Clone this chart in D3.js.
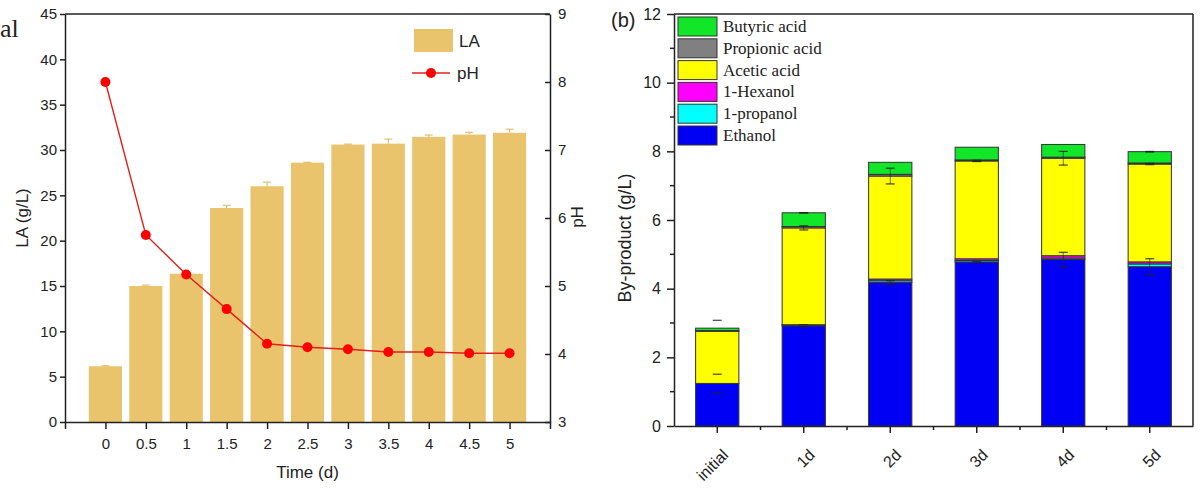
<!DOCTYPE html>
<html>
<head>
<meta charset="utf-8">
<script src="https://cdn.jsdelivr.net/npm/d3@7"></script>
<style>
  body { margin: 0; background: #fff; }
  svg { display: block; }
  text { font-family: "Liberation Sans", Arial, sans-serif; fill: #222; }
</style>
</head>
<body>
<svg id="chart" width="1202" height="488"></svg>
<script>
// panel (a): lactic acid and pH over time
const times = [0, 0.5, 1, 1.5, 2, 2.5, 3, 3.5, 4, 4.5, 5]
const timeLabels = ['0', '0.5', '1', '1.5', '2', '2.5', '3', '3.5', '4', '4.5', '5']
const laValues = [6.15, 15.0, 16.35, 23.6, 26.0, 28.6, 30.6, 30.7, 31.45, 31.7, 31.9]
const laErrors = [0.05, 0.1, 0.05, 0.3, 0.45, 0.05, 0.05, 0.5, 0.2, 0.25, 0.4]
const phValues = [8.0, 5.75, 5.17, 4.66, 4.15, 4.1, 4.07, 4.03, 4.03, 4.01, 4.01]
const laTicks = [0, 5, 10, 15, 20, 25, 30, 35, 40, 45]
const phTicks = [3, 4, 5, 6, 7, 8, 9]

// panel (b): by-products, stacked bottom to top
const days = ['initial', '1d', '2d', '3d', '4d', '5d']
const byKeys = ['Ethanol', '1-propanol', '1-Hexanol', 'Acetic acid', 'Propionic acid', 'Butyric acid']
const ethanol = [1.24, 2.92, 4.18, 4.78, 4.85, 4.64]
const propanol = [0.0, 0.02, 0.05, 0.04, 0.04, 0.08]
const hexanol = [0.0, 0.01, 0.05, 0.05, 0.07, 0.06]
const acetic = [1.52, 2.82, 3.0, 2.85, 2.84, 2.85]
const propionic = [0.02, 0.04, 0.05, 0.03, 0.03, 0.03]
const butyric = [0.07, 0.4, 0.35, 0.37, 0.37, 0.33]
// error bars: [down, up]
const ethanolErr = [[0.27, 0.27], [0.03, 0.03], [0.05, 0.05], [0.02, 0.02], [0.21, 0.21], [0.23, 0.23]]
const aceticErr = [[0, 0], [0.06, 0.06], [0.23, 0.23], [0.02, 0.02], [0.2, 0.2], [0.02, 0.02]]
const butyricErr = [[0, 0.23], [0.01, 0.01], [0, 0], [0, 0], [0, 0], [0.01, 0.01]]
const byTicks = [0, 2, 4, 6, 8, 10, 12]
const byMinor = [1, 3, 5, 7, 9, 11]

const svg = d3.select('#chart')
const ink = '#222'

// ---------- panel (a) ----------
const a = { left: 65, right: 550, top: 14, bottom: 422 }
const xA = d3.scaleLinear().domain([-0.5, 5.5]).range([a.left, a.right])
const yLA = d3.scaleLinear().domain([0, 45]).range([a.bottom, a.top])
const yPH = d3.scaleLinear().domain([3, 9]).range([a.bottom, a.top])
const barW = (xA(0.5) - xA(0)) * 0.82

const gA = svg.append('g')

gA.selectAll('rect.la')
  .data(times)
  .join('rect')
  .attr('class', 'la')
  .attr('x', (d) => xA(d) - barW / 2)
  .attr('width', barW)
  .attr('y', (d, i) => yLA(laValues[i]))
  .attr('height', (d, i) => yLA(0) - yLA(laValues[i]))
  .attr('fill', '#E9C46C')

// small error whiskers on top of bars
gA.selectAll('g.laerr')
  .data(times)
  .join('g')
  .attr('class', 'laerr')
  .each(function (d, i) {
    const g = d3.select(this)
    const x = xA(d)
    const top = yLA(laValues[i] + laErrors[i])
    g.append('line').attr('x1', x).attr('x2', x).attr('y1', yLA(laValues[i])).attr('y2', top)
      .attr('stroke', '#D9B55E').attr('stroke-width', 1)
    g.append('line').attr('x1', x - 4).attr('x2', x + 4).attr('y1', top).attr('y2', top)
      .attr('stroke', '#D9B55E').attr('stroke-width', 1)
  })

const phLine = d3.line().x((d, i) => xA(times[i])).y((d) => yPH(d))
gA.append('path')
  .datum(phValues)
  .attr('d', phLine)
  .attr('fill', 'none')
  .attr('stroke', '#E0201B')
  .attr('stroke-width', 1.4)

gA.selectAll('circle.ph')
  .data(phValues)
  .join('circle')
  .attr('class', 'ph')
  .attr('cx', (d, i) => xA(times[i]))
  .attr('cy', (d) => yPH(d))
  .attr('r', 5)
  .attr('fill', '#FF0000')

// axes
const axLeftA = gA.append('g')
  .attr('transform', `translate(${a.left},0)`)
  .call(d3.axisLeft(yLA).tickValues(laTicks).tickSize(5).tickSizeOuter(0))
const axRightA = gA.append('g')
  .attr('transform', `translate(${a.right},0)`)
  .call(d3.axisRight(yPH).tickValues(phTicks).tickFormat(d3.format('d')).tickSizeInner(-5).tickSizeOuter(0).tickPadding(8))
const axBottomA = gA.append('g')
  .attr('transform', `translate(0,${a.bottom})`)
  .call(d3.axisBottom(xA).tickValues(times).tickFormat((d, i) => timeLabels[i]).tickSize(7).tickSizeOuter(7).tickPadding(9))
gA.append('line')
  .attr('x1', a.left).attr('x2', a.right).attr('y1', a.top).attr('y2', a.top)
  .attr('stroke', ink).attr('stroke-width', 1.5)

;[axLeftA, axRightA, axBottomA].forEach((ax) => {
  ax.selectAll('path, line').attr('stroke', ink).attr('stroke-width', 1.5)
  ax.selectAll('text').attr('font-size', 15).attr('fill', ink)
})

gA.append('text')
  .attr('transform', `translate(28,218) rotate(-90)`)
  .attr('text-anchor', 'middle')
  .attr('font-size', 17)
  .text('LA (g/L)')
gA.append('text')
  .attr('transform', `translate(583,217) rotate(-90)`)
  .attr('text-anchor', 'middle')
  .attr('font-size', 17)
  .text('pH')
gA.append('text')
  .attr('x', xA(2.5))
  .attr('y', 478)
  .attr('text-anchor', 'middle')
  .attr('font-size', 17)
  .text('Time (d)')
gA.append('text')
  .attr('x', 0)
  .attr('y', 37)
  .attr('font-size', 26)
  .style('font-family', '"Liberation Serif", "Times New Roman", serif')
  .text('al')

// legend (a)
const legA = gA.append('g').attr('transform', 'translate(414,29)')
legA.append('rect').attr('width', 39).attr('height', 23).attr('fill', '#E9C46C')
legA.append('text').attr('x', 45).attr('y', 18).attr('font-size', 17).text('LA')
legA.append('line').attr('x1', -2).attr('x2', 36).attr('y1', 44).attr('y2', 44)
  .attr('stroke', '#E0201B').attr('stroke-width', 1.4)
legA.append('circle').attr('cx', 17).attr('cy', 44).attr('r', 5).attr('fill', '#FF0000')
legA.append('text').attr('x', 43).attr('y', 50).attr('font-size', 17).text('pH')

// ---------- panel (b) ----------
const b = { left: 674, right: 1193, top: 14, bottom: 426 }
const xB = d3.scaleBand().domain(days).range([b.left, b.right]).paddingInner(0.5).paddingOuter(0.25)
const yB = d3.scaleLinear().domain([0, 12]).range([b.bottom, b.top])
const colors = {
  'Ethanol': '#0000F5',
  '1-propanol': '#00FFFF',
  '1-Hexanol': '#FF00FF',
  'Acetic acid': '#FFFF00',
  'Propionic acid': '#808080',
  'Butyric acid': '#11E629',
}
const rows = days.map((d, i) => ({
  day: d,
  'Ethanol': ethanol[i],
  '1-propanol': propanol[i],
  '1-Hexanol': hexanol[i],
  'Acetic acid': acetic[i],
  'Propionic acid': propionic[i],
  'Butyric acid': butyric[i],
}))
const stacked = d3.stack().keys(byKeys)(rows)

const gB = svg.append('g')

gB.selectAll('g.layer')
  .data(stacked)
  .join('g')
  .attr('class', 'layer')
  .attr('fill', (d) => colors[d.key])
  .selectAll('rect')
  .data((d) => d)
  .join('rect')
  .attr('x', (d) => xB(d.data.day))
  .attr('width', xB.bandwidth())
  .attr('y', (d) => yB(d[1]))
  .attr('height', (d) => Math.max(0, yB(d[0]) - yB(d[1])))
  .attr('stroke', '#333')
  .attr('stroke-width', 1)

// error bars at the top of their layer
const errSets = [
  { key: 'Ethanol', err: ethanolErr },
  { key: 'Acetic acid', err: aceticErr },
  { key: 'Butyric acid', err: butyricErr },
]
errSets.forEach((set) => {
  const layer = stacked.find((s) => s.key === set.key)
  days.forEach((day, i) => {
    const [dn, up] = set.err[i]
    if (!dn && !up) return
    const cx = xB(day) + xB.bandwidth() / 2
    const v = layer[i][1]
    const g = gB.append('g').attr('stroke', '#222')
    g.append('line').attr('x1', cx).attr('x2', cx).attr('y1', yB(v - dn)).attr('y2', yB(v + up))
      .attr('stroke-width', 0.8).attr('stroke-opacity', i === 0 ? 0 : 0.8)
    const caps = []
    if (dn) caps.push(v - dn)
    if (up) caps.push(v + up)
    caps.forEach((t) => {
      g.append('line').attr('x1', cx - 4.5).attr('x2', cx + 4.5).attr('y1', yB(t)).attr('y2', yB(t))
        .attr('stroke-width', 1)
    })
  })
})

const axLeftB = gB.append('g')
  .attr('transform', `translate(${b.left},0)`)
  .call(d3.axisLeft(yB).tickValues(byTicks).tickSize(7).tickSizeOuter(0).tickPadding(6))
gB.append('g')
  .attr('transform', `translate(${b.left},0)`)
  .selectAll('line')
  .data(byMinor)
  .join('line')
  .attr('x1', -4).attr('x2', 0)
  .attr('y1', (d) => yB(d)).attr('y2', (d) => yB(d))
  .attr('stroke', ink).attr('stroke-width', 1.5)

const axBottomB = gB.append('g')
  .attr('transform', `translate(0,${b.bottom})`)
  .call(d3.axisBottom(xB).tickSize(7).tickSizeOuter(0))
// minor ticks between categories
const gap = (xB.step() - xB.bandwidth()) / 2
gB.append('g')
  .attr('transform', `translate(0,${b.bottom})`)
  .selectAll('line')
  .data(days.slice(1))
  .join('line')
  .attr('x1', (d) => xB(d) - gap)
  .attr('x2', (d) => xB(d) - gap)
  .attr('y1', 0).attr('y2', 4)
  .attr('stroke', ink).attr('stroke-width', 1.5)

axBottomB.selectAll('text')
  .attr('text-anchor', 'end')
  .attr('x', 0)
  .attr('y', 0)
  .attr('dy', '0.35em')
  .attr('transform', 'translate(8,26) rotate(-45)')

gB.append('line')
  .attr('x1', b.left).attr('x2', b.right).attr('y1', b.top).attr('y2', b.top)
  .attr('stroke', ink).attr('stroke-width', 1.5)
gB.append('line')
  .attr('x1', b.right).attr('x2', b.right).attr('y1', b.top).attr('y2', b.bottom)
  .attr('stroke', ink).attr('stroke-width', 1.5)

;[axLeftB, axBottomB].forEach((ax) => {
  ax.selectAll('path, line').attr('stroke', ink).attr('stroke-width', 1.5)
  ax.selectAll('text').attr('font-size', 16).attr('fill', ink)
})

gB.append('text')
  .attr('transform', `translate(631,238) rotate(-90)`)
  .attr('text-anchor', 'middle')
  .attr('font-size', 18)
  .text('By-product (g/L)')
gB.append('text')
  .attr('x', 611)
  .attr('y', 27)
  .attr('font-size', 20)
  .text('(b)')

// legend (b), top entry first
const legKeys = byKeys.slice().reverse()
const legB = gB.append('g').attr('transform', 'translate(678,17)')
legB.selectAll('g')
  .data(legKeys)
  .join('g')
  .attr('transform', (d, i) => `translate(0,${i * 21.8})`)
  .each(function (d) {
    const g = d3.select(this)
    g.append('rect').attr('width', 39).attr('height', 19)
      .attr('fill', colors[d]).attr('stroke', '#333').attr('stroke-width', 1)
    g.append('text').attr('x', 45).attr('y', 15)
      .attr('font-size', 17)
      .style('font-family', '"Liberation Serif", "Times New Roman", serif')
      .attr('fill', '#333')
      .text(d)
  })
</script>
</body>
</html>
